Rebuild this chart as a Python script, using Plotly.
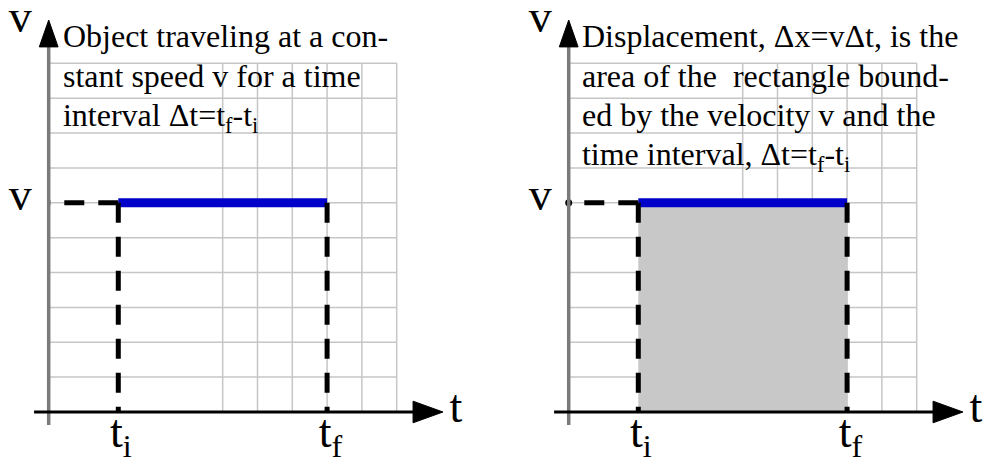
import plotly.graph_objects as go

# ---- data ----
T_I = 2          # initial time (grid units)
T_F = 8          # final time
V = 6            # constant speed level
GRID_N = 10
H_GRID = [1, 2, 3, 4, 5, 6, 7, 8, 9, 10]
V_GRID = [5, 6, 7, 8, 9, 10]

LEFT_TEXT = ["Object traveling at a con-",
             "stant speed v for a time",
             "interval \u0394t=t<sub>f</sub>-t<sub>i</sub>"]
RIGHT_TEXT = ["Displacement, \u0394x=v\u0394t, is the",
              "area of the  rectangle bound-",
              "ed by the velocity v and the",
              "time interval, \u0394t=t<sub>f</sub>-t<sub>i</sub>"]
AXIS_V = "v"
AXIS_T = "t"
TICK_I = "t<sub>i</sub>"
TICK_F = "t<sub>f</sub>"

# ---- style ----
FONT = "Liberation Serif"
GRID_COL = "#c6c6c6"
FILL_COL = "#c8c8c8"
BLUE = "#0000c8"
DASH = "20px,14px"
TEXT_TOP = 10.69
LINE_STEP = 1.13

fig = go.Figure()
shapes = []

panels = [("x", "y", LEFT_TEXT, False, 0.41), ("x2", "y2", RIGHT_TEXT, True, 0.38)]

for xr, yr, lines, filled, tx in panels:
    # grid
    for g in H_GRID:
        shapes.append(dict(type="line", xref=xr, yref=yr, x0=0, x1=GRID_N, y0=g, y1=g,
                           line=dict(color=GRID_COL, width=1.5), layer="below"))
    for g in V_GRID:
        shapes.append(dict(type="line", xref=xr, yref=yr, x0=g, x1=g, y0=0, y1=GRID_N,
                           line=dict(color=GRID_COL, width=1.5), layer="below"))
    if filled:
        shapes.append(dict(type="rect", xref=xr, yref=yr, x0=T_I, x1=T_F, y0=0, y1=V,
                           fillcolor=FILL_COL, line=dict(width=0), layer="below"))
    # axes
    shapes.append(dict(type="line", xref=xr, yref=yr, x0=0, x1=0, y0=-0.37, y1=10.5,
                       line=dict(color="#7a7a7a", width=3.5), layer="above"))
    shapes.append(dict(type="line", xref=xr, yref=yr, x0=-0.42, x1=10.5, y0=0, y1=0,
                       line=dict(color="black", width=3), layer="above"))
    shapes.append(dict(type="path", xref=xr, yref=yr,
                       path="M -0.27,10.47 L 0,11.24 L 0.27,10.47 Z",
                       fillcolor="black", line=dict(color="black", width=1), layer="above"))
    shapes.append(dict(type="path", xref=xr, yref=yr,
                       path="M 10.47,0.31 L 11.33,0 L 10.47,-0.31 Z",
                       fillcolor="black", line=dict(color="black", width=1), layer="above"))

    # blue constant-velocity segment
    fig.add_trace(go.Scatter(x=[T_I, T_F], y=[V, V], xaxis=xr, yaxis=yr, mode="lines",
                             line=dict(color=BLUE, width=9), hoverinfo="skip"))
    # dashed guides
    for xs, ys in [([T_I, 0], [V, V]), ([T_I, T_I], [V, 0]), ([T_F, T_F], [V, 0])]:
        fig.add_trace(go.Scatter(x=xs, y=ys, xaxis=xr, yaxis=yr, mode="lines",
                                 line=dict(color="black", width=5, dash=DASH), hoverinfo="skip"))
    if filled:
        fig.add_trace(go.Scatter(x=[0], y=[V], xaxis=xr, yaxis=yr, mode="markers",
                                 marker=dict(color="black", size=7), hoverinfo="skip"))

    # description text
    fig.add_trace(go.Scatter(x=[tx] * len(lines),
                             y=[TEXT_TOP - LINE_STEP * k for k in range(len(lines))],
                             xaxis=xr, yaxis=yr, mode="text", text=lines,
                             textposition="middle right", cliponaxis=False,
                             textfont=dict(family=FONT, size=32, color="black"),
                             hoverinfo="skip"))
    # axis labels
    fig.add_trace(go.Scatter(x=[-0.82, -0.82, 11.7], y=[11.24, V + 0.11, 0.03],
                             xaxis=xr, yaxis=yr, mode="text", text=[AXIS_V, AXIS_V, AXIS_T],
                             textposition="middle center", cliponaxis=False,
                             textfont=dict(family=FONT, size=46, color="black"),
                             hoverinfo="skip"))
    fig.add_trace(go.Scatter(x=[T_I - 0.24, T_F - 0.24], y=[-0.68, -0.68],
                             xaxis=xr, yaxis=yr, mode="text", text=[TICK_I, TICK_F],
                             textposition="middle right", cliponaxis=False,
                             textfont=dict(family=FONT, size=46, color="black"),
                             hoverinfo="skip"))

hidden = dict(visible=False, showgrid=False, zeroline=False, fixedrange=True)
fig.update_layout(
    width=985, height=466,
    margin=dict(l=0, r=0, t=0, b=0),
    paper_bgcolor="white", plot_bgcolor="white",
    showlegend=False,
    shapes=shapes,
    xaxis=dict(domain=[0, 0.5], range=[-1.399, 12.753], **hidden),
    xaxis2=dict(domain=[0.5, 1], range=[-2.190, 11.963], **hidden),
    yaxis=dict(domain=[0, 1], range=[-1.549, 11.815], anchor="x", **hidden),
    yaxis2=dict(domain=[0, 1], range=[-1.549, 11.815], anchor="x2", **hidden),
)

fig.write_html("out.html", config={"displayModeBar": False},
               post_script="document.body.style.margin='0';")
